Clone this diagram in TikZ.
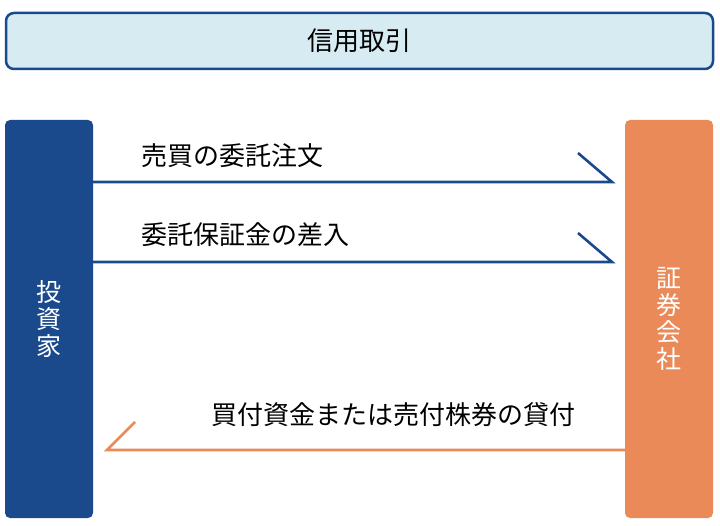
\documentclass[tikz,border=0pt]{standalone}
\usepackage{fontspec}
\setmainfont{Noto Sans CJK JP}
\usetikzlibrary{positioning}
\definecolor{navy}{HTML}{1B4A8C}
\definecolor{skyfill}{HTML}{D6ECF2}
\definecolor{orng}{HTML}{E98A58}
\begin{document}
\begin{tikzpicture}[x=1pt,y=-1pt,
  every node/.style={font=\fontsize{26}{29}\selectfont},
  party/.style={rounded corners=5pt, inner sep=0pt, minimum width=88pt, minimum height=398pt, text=white, align=center, font=\fontsize{25}{27}\selectfont},
  flowline/.style={line width=2.6pt}]
  \useasboundingbox (0,0) rectangle (720,526);

  \node (title) [draw=navy, line width=2.5pt, fill=skyfill, rounded corners=8pt, minimum width=707pt, minimum height=56pt] at (359.5,41) {信用取引};

  \node (investor) [party, fill=navy] at (49,319) {投\\資\\家};
  \node (broker) [party, fill=orng] at (669,319) {証\\券\\会\\社};

  \coordinate (a1) at (investor.east |- 0,182);
  \coordinate (b1) at (612,182);
  \coordinate (a2) at (investor.east |- 0,262);
  \coordinate (b2) at (612,262);
  \coordinate (a3) at (broker.west |- 0,450);
  \coordinate (b3) at (107,450);

  \draw[flowline, navy] (a1) -- (b1) -- ++(-34,-29);
  \draw[flowline, navy] (a2) -- (b2) -- ++(-34,-29);
  \draw[flowline, orng] (a3) -- (b3) -- ++(28,-28);

  \node (order) [anchor=west] at (138,156) {売買の委託注文};
  \node (margin) [anchor=west] at (138,235) {委託保証金の差入};
  \node (loan) [anchor=west] at (208,415) {買付資金または売付株券の貸付};
\end{tikzpicture}
\end{document}
